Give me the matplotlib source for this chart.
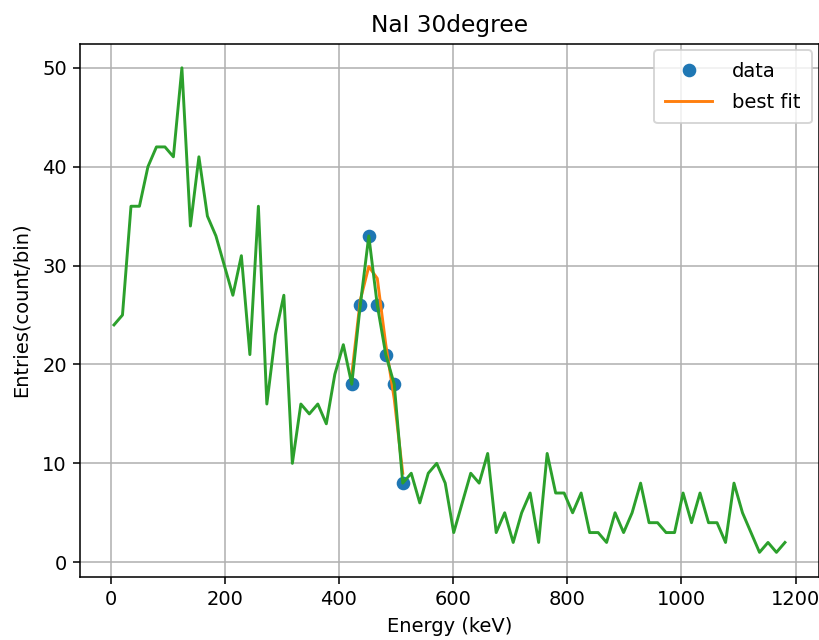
import matplotlib
matplotlib.use("Agg")
import matplotlib.pyplot as plt

# Full NaI spectrum (bin centre energy in keV, counts per bin)
energy = [5.8, 20.7, 35.6, 50.4, 65.3, 80.2, 95.1, 109.9, 124.8, 139.7,
          154.6, 169.5, 184.4, 199.2, 214.1, 229.0, 243.9, 258.8, 273.6, 288.5,
          303.4, 318.3, 333.2, 348.0, 362.9, 377.8, 392.7, 407.6, 422.4, 437.3,
          452.2, 467.1, 482.0, 496.8, 511.7, 526.6, 541.5, 556.4, 571.2, 586.1,
          601.0, 615.9, 630.8, 645.6, 660.5, 675.4, 690.3, 705.2, 720.0, 734.9,
          749.8, 764.7, 779.6, 794.4, 809.3, 824.2, 839.1, 854.0, 868.8, 883.7,
          898.6, 913.5, 928.4, 943.2, 958.1, 973.0, 987.9, 1002.8, 1017.6, 1032.5,
          1047.4, 1062.3, 1077.2, 1092.0, 1106.9, 1121.8, 1136.7, 1151.6, 1166.4, 1181.3]
counts = [24, 25, 36, 36, 40, 42, 42, 41, 50, 34,
          41, 35, 33, 30, 27, 31, 21, 36, 16, 23,
          27, 10, 16, 15, 16, 14, 19, 22, 18, 26,
          33, 26, 21, 18, 8, 9, 6, 9, 10, 8,
          3, 6, 9, 8, 11, 3, 5, 2, 5, 7,
          2, 11, 7, 7, 5, 7, 3, 3, 2, 5,
          3, 5, 8, 4, 4, 3, 3, 7, 4, 7,
          4, 4, 2, 8, 5, 3, 1, 2, 1, 2]

# Photopeak region used for the fit
peak_energy = [422.4, 437.3, 452.2, 467.1, 482.0, 496.8, 511.7]
peak_counts = [18, 26, 33, 26, 21, 18, 8]
fit_counts = [19.0, 26.5, 29.9, 28.7, 22.0, 16.5, 9.0]

DPI = 140
fig = plt.figure(figsize=(819 / DPI, 640 / DPI), dpi=DPI)
ax = fig.add_axes([0.0982, 0.0991, 0.9012, 0.8328])

ax.plot(peak_energy, peak_counts, "o", color="C0", label="data")
ax.plot(peak_energy, fit_counts, "-", color="C1", label="best fit")
ax.plot(energy, counts, "-", color="C2")

ax.set_title("NaI 30degree")
ax.set_xlabel("Energy (keV)")
ax.set_ylabel("Entries(count/bin)", labelpad=6)
ax.grid(True)
ax.legend(loc="upper right", borderpad=0.6, handlelength=2.4,
          handletextpad=1.0, borderaxespad=0.35, labelspacing=0.6)

fig.savefig("out.png", dpi=DPI)
